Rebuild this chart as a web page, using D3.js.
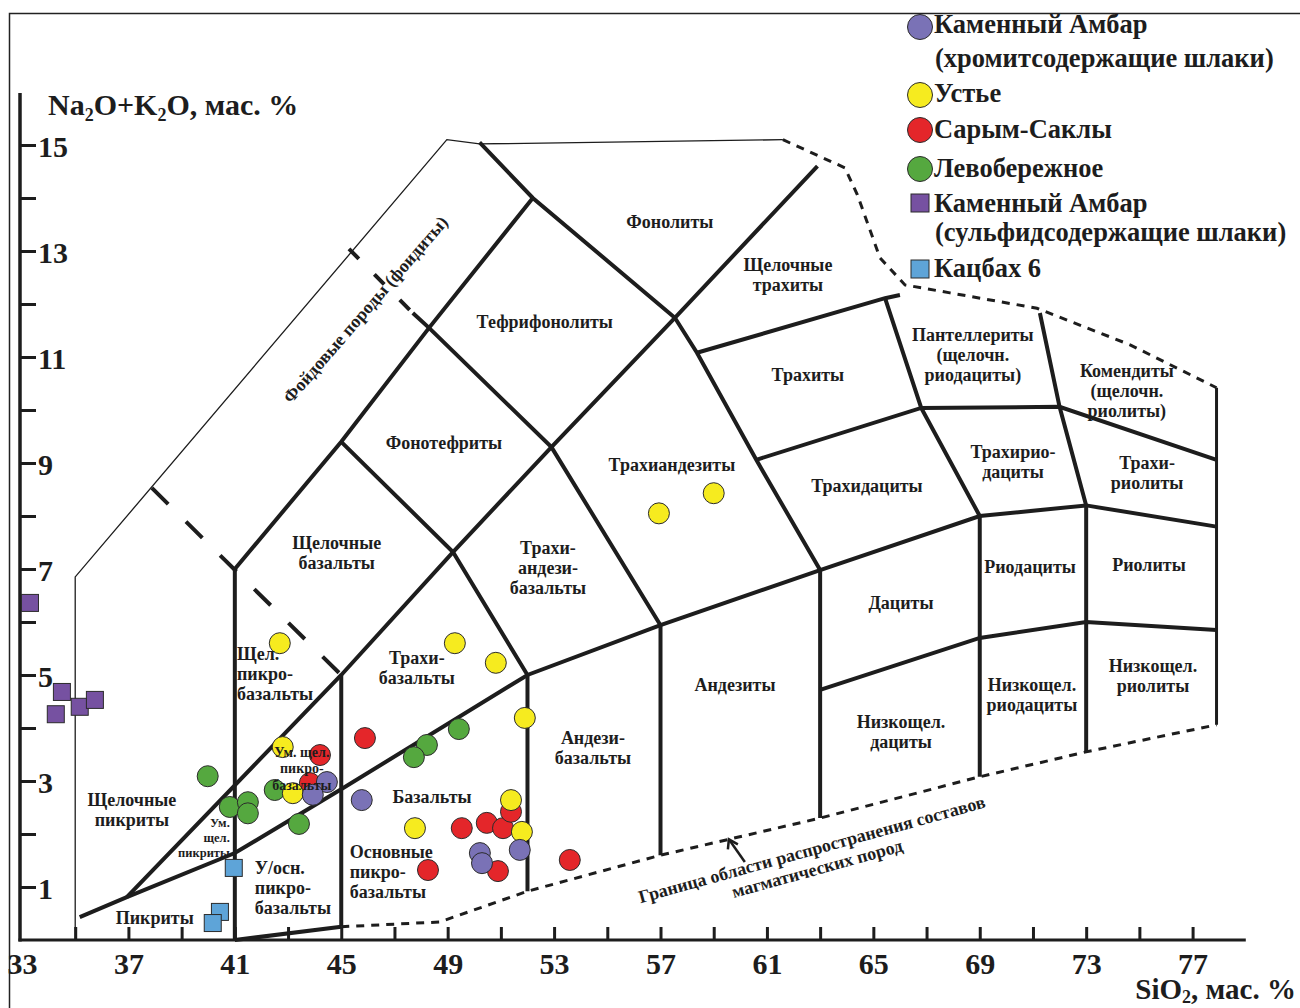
<!DOCTYPE html>
<html>
<head>
<meta charset="utf-8">
<script src="https://cdn.jsdelivr.net/npm/d3@7"></script>
<style>
  body { margin: 0; background: #fff; }
  svg { display: block; }
  text { font-family: "Liberation Serif", "Times New Roman", serif; font-weight: bold; fill: #1d1d1d; }
</style>
</head>
<body>
<svg id="chart" width="1300" height="1008"></svg>
<script>
// ---- Axis ticks ----
const siTicks = d3.range(35, 78, 2);
const siLabels = [33, 37, 41, 45, 49, 53, 57, 61, 65, 69, 73, 77];
const alkTicks = d3.range(1, 16);
const alkLabels = [1, 3, 5, 7, 9, 11, 13, 15];

// ---- Samples: [SiO2, Na2O+K2O], wt.% ----
const kamAmbarChromite = [[44.46, 2.98], [43.93, 2.74], [45.77, 2.64], [50.21, 1.64], [50.29, 1.45], [51.71, 1.70]];
const ustye = [[42.69, 5.60], [49.27, 5.60], [50.81, 5.23], [51.90, 4.19], [56.94, 8.05], [59.00, 8.43],
               [42.80, 3.64], [43.18, 2.77], [47.77, 2.11], [51.38, 2.64], [51.79, 2.04]];
const sarymSakly = [[45.89, 3.81], [44.20, 3.49], [43.82, 2.96], [49.53, 2.11], [50.47, 2.21], [51.08, 2.11],
                    [51.38, 2.42], [48.26, 1.32], [50.89, 1.30], [53.59, 1.51]];
const levoberezhnoe = [[39.98, 3.09], [40.81, 2.51], [41.49, 2.60], [41.49, 2.39], [42.50, 2.83], [43.41, 2.19],
                       [48.22, 3.68], [47.73, 3.45], [49.42, 3.98]];
const kamAmbarSulfide = [[33.30, 6.36], [34.50, 4.68], [34.27, 4.26], [35.17, 4.40], [35.74, 4.53]];
const katsbakh6 = [[40.96, 1.36], [40.44, 0.53], [40.17, 0.32]];

// ---- Classification field boundaries (SiO2, Na2O+K2O) ----
const bVert41 = [[41, 0], [41, 7]];
const bFoidLower = [[41, 7], [45, 9.4], [48.3, 11.55], [52.2, 14.0]];
const bPhonolite = [[50.2, 15.05], [52.2, 14.0], [57.54, 11.74], [58.37, 11.08], [60.6, 9.06], [63, 6.98]];
const bTephrite = [[36.94, 0.81], [45, 5], [49.2, 7.32], [52.9, 9.3], [57.54, 11.74], [62.9, 14.6]];
const bPhonotephrite = [[45, 9.4], [49.2, 7.32], [52, 5]];
const bTephriphonolite = [[47.69, 11.83], [48.3, 11.55], [52.9, 9.3], [57, 5.94]];
const bTrachyteTop = [[58.37, 11.08], [65.44, 12.11], [66.0, 12.17]];
const bPantelleriteLeft = [[65.44, 12.11], [66.8, 10.04], [69, 8.0]];
const bTrachydaciteTop = [[60.6, 9.06], [66.8, 10.04], [72.0, 10.06], [77.9, 9.06]];
const bComenditeLeft = [[71.26, 11.83], [72.0, 10.06], [73, 8.2]];
const bAlkaliDivide = [[35.17, 0.43], [36.94, 0.81], [41, 1.64], [44.95, 2.83], [52, 5], [57, 5.94],
                       [63, 6.98], [69, 8.0], [73, 8.2], [77.9, 7.8]];
const bVert45 = [[45, 0.25], [45, 5]];
const bVert52 = [[52, 0.92], [52, 5]];
const bVert57 = [[57, 1.6], [57, 5.94]];
const bVert63 = [[63, 2.3], [63, 6.98]];
const bVert69 = [[69, 3.08], [69, 8.0]];
const bVert73 = [[73, 3.55], [73, 8.2]];
const bLowAlkali = [[63, 4.72], [69, 5.7], [73, 6.0], [77.9, 5.85]];
const bBase = [[41, 0], [45, 0.25]];
const bRight = [[77.9, 4.06], [77.9, 10.42]];
const bFoidOuter = [[35, 0], [35, 6.85], [48.97, 15.1], [50.2, 15.02], [61.6, 15.1]];
const bLimitUpper = [[61.6, 15.1], [63.93, 14.57], [64.4, 14.06], [65.25, 12.87], [66.19, 12.36],
                     [67.88, 12.21], [71.15, 11.92], [74.65, 11.23], [77.9, 10.42]];
const bLimitLower = [[45, 0.25], [48.7, 0.34], [52, 0.92], [57, 1.6], [63, 2.3], [69, 3.08], [73, 3.55], [77.9, 4.06]];
const bDashPicro = [[37.88, 8.53], [45, 5]];
const bDashFoid = [[45.29, 13.04], [47.69, 11.83]];

// ---- Field names: text lines and anchor point (SiO2, Na2O+K2O) ----
const fieldNames = [
  { lines: ["Фонолиты"], at: [57.35, 13.55] },
  { lines: ["Щелочные", "трахиты"], at: [61.79, 12.74] },
  { lines: ["Тефрифонолиты"], at: [52.65, 11.66] },
  { lines: ["Трахиты"], at: [62.54, 10.66] },
  { lines: ["Пантеллериты", "(щелочн.", "риодациты)"], at: [68.74, 11.42] },
  { lines: ["Комендиты", "(щелочн.", "риолиты)"], at: [74.53, 10.74] },
  { lines: ["Фонотефриты"], at: [48.86, 9.38] },
  { lines: ["Трахиандезиты"], at: [57.43, 8.96] },
  { lines: ["Трахидациты"], at: [64.76, 8.58] },
  { lines: ["Трахирио-", "дациты"], at: [70.25, 9.21] },
  { lines: ["Трахи-", "риолиты"], at: [75.29, 9.0] },
  { lines: ["Щелочные", "базальты"], at: [44.83, 7.49] },
  { lines: ["Трахи-", "андези-", "базальты"], at: [52.77, 7.40] },
  { lines: ["Риодациты"], at: [70.89, 7.04] },
  { lines: ["Риолиты"], at: [75.36, 7.08] },
  { lines: ["Дациты"], at: [66.04, 6.36] },
  { lines: ["Щел.", "пикро-", "базальты"], at: [41.08, 5.40], anchor: "start" },
  { lines: ["Трахи-", "базальты"], at: [47.84, 5.32] },
  { lines: ["Андезиты"], at: [59.8, 4.81] },
  { lines: ["Низкощел.", "дациты"], at: [66.04, 4.11] },
  { lines: ["Низкощел.", "риодациты"], at: [70.96, 4.81] },
  { lines: ["Низкощел.", "риолиты"], at: [75.51, 5.17] },
  { lines: ["Андези-", "базальты"], at: [54.46, 3.81] },
  { lines: ["Ум. щел.", "пикро-", "базальты"], at: [43.52, 3.55], small: 1 },
  { lines: ["Базальты"], at: [48.41, 2.70] },
  { lines: ["Щелочные", "пикриты"], at: [37.13, 2.64] },
  { lines: ["Ум.", "щел.", "пикриты"], at: [40.81, 2.21], anchor: "end", small: 2 },
  { lines: ["Основные", "пикро-", "базальты"], at: [45.32, 1.66], anchor: "start" },
  { lines: ["У/осн.", "пикро-", "базальты"], at: [41.75, 1.36], anchor: "start" },
  { lines: ["Пикриты"], at: [37.99, 0.43] }
];

// ---- Legend ----
const legendNames = [
  ["Каменный Амбар", "(хромитсодержащие шлаки)"],
  ["Устье"],
  ["Сарым-Саклы"],
  ["Левобережное"],
  ["Каменный Амбар", "(сульфидсодержащие шлаки)"],
  ["Кацбах 6"]
];

const svg = d3.select("#chart");
const ink = "#1d1d1d";

const x = d3.scaleLinear().domain([33, 79]).range([22, 1245.8]);
const y = d3.scaleLinear().domain([0, 15]).range([940, 145]);
const line = d3.line().x(d => x(d[0])).y(d => y(d[1]));

// outer frame
svg.append("rect").attr("x", 9.5).attr("y", 13.5).attr("width", 1310).attr("height", 1010)
  .attr("fill", "none").attr("stroke", "#222").attr("stroke-width", 1.5);

// ---- field boundaries ----
const gLines = svg.append("g").attr("fill", "none").attr("stroke", ink)
  .attr("stroke-linejoin", "miter").attr("stroke-linecap", "butt");

const thick = [bVert41, bFoidLower, bPhonolite, bTephrite, bPhonotephrite, bTephriphonolite,
  bTrachyteTop, bPantelleriteLeft, bTrachydaciteTop, bComenditeLeft, bAlkaliDivide,
  bVert45, bVert52, bVert57, bVert63, bVert69, bVert73, bLowAlkali, bBase];
gLines.selectAll("path.thick").data(thick).join("path").attr("class", "thick")
  .attr("d", line).attr("stroke-width", 4);

gLines.append("path").attr("d", line(bRight)).attr("stroke-width", 3);
gLines.append("path").attr("d", line(bFoidOuter)).attr("stroke-width", 1.3);
gLines.selectAll("path.limit").data([bLimitUpper, bLimitLower]).join("path").attr("class", "limit")
  .attr("d", line).attr("stroke-width", 3).attr("stroke-dasharray", "8,7");
gLines.append("path").attr("d", line(bDashPicro)).attr("stroke-width", 4).attr("stroke-dasharray", "23,25");
gLines.append("path").attr("d", line(bDashFoid)).attr("stroke-width", 4).attr("stroke-dasharray", "14,22");

// ---- axes ----
const gy = svg.append("g").attr("transform", "translate(20,0)")
  .call(d3.axisRight(y).tickValues(alkTicks).tickSize(16).tickPadding(2)
    .tickFormat(d => alkLabels.includes(d) ? d : ""));
gy.select(".domain").remove();
gy.selectAll(".tick line").attr("stroke", ink).attr("stroke-width", 3);
gy.selectAll(".tick text").attr("font-size", 30).attr("dy", "0.38em")
  .style("font-family", "'Liberation Serif', serif").style("font-weight", "bold").attr("fill", ink);

const gx = svg.append("g").attr("transform", "translate(0,940)")
  .call(d3.axisBottom(x).tickValues(siTicks).tickSize(-13).tickFormat(""));
gx.select(".domain").remove();
gx.selectAll(".tick line").attr("stroke", ink).attr("stroke-width", 3);

const gxl = svg.append("g").attr("transform", "translate(0,940)")
  .call(d3.axisBottom(x).tickValues(siLabels).tickSize(0).tickPadding(13));
gxl.select(".domain").remove();
gxl.selectAll(".tick text").attr("font-size", 30)
  .style("font-family", "'Liberation Serif', serif").style("font-weight", "bold").attr("fill", ink);

svg.append("line").attr("x1", 20).attr("x2", 20).attr("y1", 93).attr("y2", 941.5)
  .attr("stroke", ink).attr("stroke-width", 3.5);
svg.append("line").attr("x1", 18.5).attr("x2", x(79)).attr("y1", 940).attr("y2", 940)
  .attr("stroke", ink).attr("stroke-width", 3);

// axis titles with subscripts
function withSubscripts(t, parts, shift) {
  let inSub = false;
  parts.forEach(p => {
    if (typeof p === "string") {
      t.append("tspan").text(p).attr("dy", inSub ? -shift : 0);
      inSub = false;
    } else {
      t.append("tspan").text(p.sub).attr("font-size", 18).attr("dy", shift);
      inSub = true;
    }
  });
}
withSubscripts(svg.append("text").attr("x", 48).attr("y", 115).attr("font-size", 30),
  ["Na", { sub: "2" }, "O+K", { sub: "2" }, "O, мас. %"], 6);
withSubscripts(svg.append("text").attr("x", 1296).attr("y", 999).attr("font-size", 29).attr("text-anchor", "end"),
  ["SiO", { sub: "2" }, ", мас. %"], 4);

// ---- samples ----
const gPts = svg.append("g").attr("stroke", "#2b2b2b").attr("stroke-width", 1);
function circles(data, color) {
  gPts.append("g").selectAll("circle").data(data).join("circle")
    .attr("cx", d => x(d[0])).attr("cy", d => y(d[1])).attr("r", 10.5).attr("fill", color);
}
function squares(data, color) {
  gPts.append("g").selectAll("rect").data(data).join("rect")
    .attr("x", d => x(d[0]) - 8.5).attr("y", d => y(d[1]) - 8.5)
    .attr("width", 17).attr("height", 17).attr("fill", color);
}
const colors = ["#7a72b6", "#f6eb1f", "#e4262a", "#55a83f", "#7651a1", "#5ea4d8"];
squares(kamAmbarSulfide, colors[4]);
squares(katsbakh6, colors[5]);
circles(levoberezhnoe, colors[3]);
circles(sarymSakly, colors[2]);
circles(ustye, colors[1]);
circles(kamAmbarChromite, colors[0]);

// ---- field names ----
const gNames = svg.append("g");
fieldNames.forEach(f => {
  const fs = f.small === 1 ? 14 : f.small === 2 ? 12.5 : 18;
  const lh = f.small === 1 ? 16.5 : f.small === 2 ? 14.8 : 20;
  const t = gNames.append("text").attr("font-size", fs).attr("text-anchor", f.anchor || "middle");
  f.lines.forEach((s, i) => {
    t.append("tspan").attr("x", x(f.at[0])).attr("y", y(f.at[1]) + i * lh).attr("dy", "0.35em").text(s);
  });
});

// foid rocks caption along the outer boundary
svg.append("text").attr("font-size", 18).attr("text-anchor", "middle")
  .attr("transform", `translate(${x(45.9)},${y(11.9)}) rotate(-49)`).attr("dy", "0.35em")
  .text("Фойдовые породы (фоидиты)");

// lower limit caption and arrow
const cap = svg.append("g").attr("transform", `translate(${x(62.75)},${y(1.6)}) rotate(-15.5)`);
cap.append("text").attr("font-size", 18).attr("text-anchor", "middle").text("Граница области  распространения составов");
cap.append("text").attr("font-size", 18).attr("text-anchor", "middle").attr("y", 20).text("магматических пород");

const a0 = [60.17, 1.47], a1 = [59.57, 1.9];
svg.append("line").attr("x1", x(a0[0])).attr("y1", y(a0[1])).attr("x2", x(a1[0])).attr("y2", y(a1[1]))
  .attr("stroke", ink).attr("stroke-width", 2.5);
svg.append("path")
  .attr("d", `M${x(a1[0]) - 1},${y(a1[1]) + 10} L${x(a1[0])},${y(a1[1])} L${x(a1[0]) + 9},${y(a1[1]) + 5}`)
  .attr("fill", "none").attr("stroke", ink).attr("stroke-width", 2.5);

// ---- legend ----
const legendRows = [{ cy: 27, base: [33, 67] }, { cy: 95, base: [102] }, { cy: 130, base: [138] },
                    { cy: 169, base: [177] }, { cy: 203, base: [212, 241] }, { cy: 269, base: [277] }];
const gLeg = svg.append("g");
legendNames.forEach((names, i) => {
  const row = legendRows[i];
  if (i < 4) gLeg.append("circle").attr("cx", 920).attr("cy", row.cy).attr("r", 12.5)
    .attr("fill", colors[i]).attr("stroke", "#2b2b2b").attr("stroke-width", 1);
  else gLeg.append("rect").attr("x", 911).attr("y", row.cy - 9).attr("width", 18).attr("height", 18)
    .attr("fill", colors[i]).attr("stroke", "#2b2b2b").attr("stroke-width", 1);
  names.forEach((s, j) => {
    gLeg.append("text").attr("x", j === 0 ? 934 : 935).attr("y", row.base[j]).attr("font-size", 26.5).text(s);
  });
});
</script>
</body>
</html>
